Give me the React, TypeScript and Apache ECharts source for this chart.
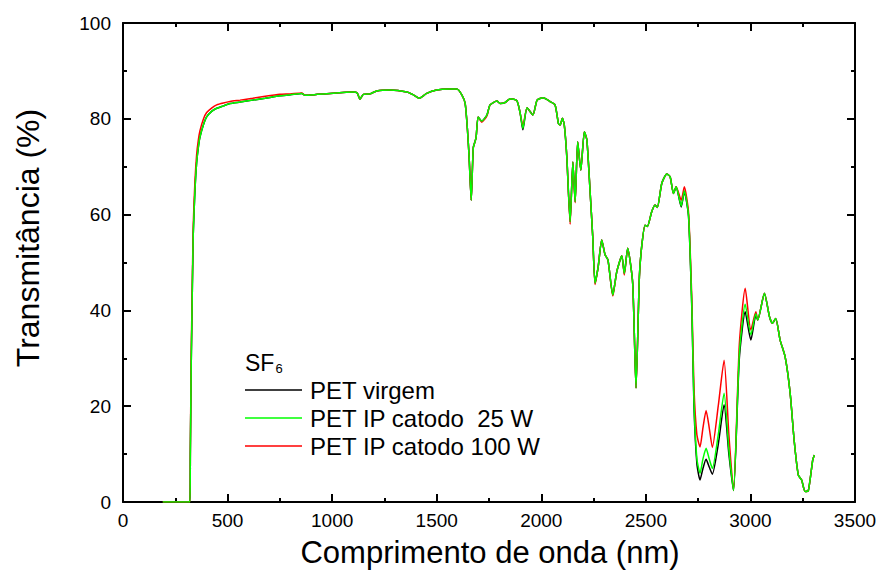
import React, { useEffect, useRef } from "react";
import * as echarts from "echarts";

const wavelengths = [190, 320, 322, 326, 330, 336, 344, 352, 360, 368, 385, 400, 425, 448, 480, 512, 560, 620, 680, 750, 800, 855, 870, 930, 990, 1050, 1101, 1120, 1133, 1149, 1181, 1213, 1277, 1357, 1389, 1417, 1452, 1500, 1560, 1596, 1620, 1636, 1647, 1655, 1665, 1675, 1688, 1698, 1715, 1740, 1755, 1788, 1803, 1827, 1851, 1883, 1899, 1912, 1932, 1960, 1980, 2009, 2042, 2066, 2082, 2090, 2101, 2110, 2122, 2138, 2151, 2162, 2174, 2189, 2206, 2218, 2233, 2246, 2257, 2272, 2289, 2305, 2319, 2342, 2361, 2385, 2397, 2413, 2437, 2453, 2469, 2480, 2496, 2507, 2528, 2544, 2555, 2576, 2600, 2616, 2632, 2645, 2669, 2684, 2704, 2720, 2730, 2744, 2759, 2773, 2788, 2803, 2818, 2846, 2874, 2897, 2919, 2947, 2975, 3002, 3026, 3035, 3067, 3091, 3105, 3121, 3142, 3166, 3190, 3209, 3229, 3245, 3261, 3277, 3298, 3306];

const petVirgem = [0, 0, 10, 28, 40, 56, 65, 70.8, 74, 76.2, 78.8, 80.4, 81.6, 82.2, 82.7, 83.2, 83.5, 83.9, 84.3, 84.8, 85.0, 85.3, 84.9, 85.1, 85.3, 85.5, 85.6, 85.4, 84.1, 85.1, 85.2, 85.8, 86.0, 85.6, 85.0, 84.3, 85.3, 86.0, 86.2, 86.2, 85.0, 83.2, 77.7, 72, 63, 74, 76, 80.4, 79.5, 80.8, 82.9, 83.7, 83.2, 83.4, 84.2, 83.8, 81.2, 77.7, 82.3, 80.8, 83.9, 84.4, 83.6, 82.9, 79.0, 78.7, 80.1, 78.7, 72.1, 58.5, 71.0, 62.7, 75.2, 69.3, 77.3, 75.6, 65.1, 55.4, 45.7, 49.1, 54.7, 51.6, 50.5, 43.2, 48.1, 51.4, 47.7, 53.0, 45.7, 23.8, 47.0, 53.3, 57.8, 57.5, 60.6, 62.0, 61.5, 66.5, 68.5, 67.9, 64.4, 65.8, 61.6, 64.8, 59.6, 40, 20, 8, 4.6, 7, 8.9, 7.3, 5.8, 12, 20.3, 10, 2.4, 30, 39.7, 33.8, 39, 38, 43.6, 38.7, 37.3, 38.3, 33.8, 30.3, 22.7, 12.9, 5.6, 4.6, 2.2, 2.4, 8.8, 9.8];

const petCatodo25 = [0, 0, 10, 28, 40, 56, 65, 70.8, 74, 76.2, 78.8, 80.4, 81.6, 82.2, 82.7, 83.2, 83.5, 83.9, 84.3, 84.8, 85.0, 85.3, 84.9, 85.1, 85.3, 85.5, 85.6, 85.4, 84.1, 85.1, 85.2, 85.8, 86.0, 85.6, 85.0, 84.3, 85.3, 86.0, 86.2, 86.2, 85.0, 83.2, 77.7, 72, 63, 74, 76, 80.4, 79.5, 80.8, 82.9, 83.7, 83.2, 83.4, 84.2, 83.8, 81.2, 78.0, 82.3, 80.8, 83.9, 84.4, 83.6, 82.9, 79.0, 78.7, 80.1, 78.7, 72.1, 58.5, 71.0, 62.7, 75.2, 69.3, 77.3, 75.6, 65.1, 55.4, 45.7, 49.1, 54.7, 51.6, 50.5, 43.2, 48.1, 51.4, 47.7, 53.0, 45.7, 23.8, 47.0, 53.3, 57.8, 57.5, 60.6, 62.0, 61.5, 66.5, 68.5, 67.9, 64.4, 65.8, 61.8, 65.0, 59.8, 40.5, 21, 9, 6, 9, 11.2, 9, 7, 14, 22.7, 11, 2.4, 31, 41.3, 34.9, 39.3, 38, 43.6, 38.7, 37.3, 38.3, 33.8, 30.3, 22.7, 12.9, 5.6, 4.6, 2.2, 2.4, 8.8, 9.8];

const petCatodo100 = [0, 0, 11, 30, 42, 58, 67, 72.5, 75.5, 77.5, 80, 81.3, 82.3, 82.9, 83.3, 83.6, 83.9, 84.3, 84.7, 85.1, 85.2, 85.4, 84.9, 85.1, 85.3, 85.5, 85.6, 85.4, 84.1, 85.1, 85.2, 85.8, 86.0, 85.6, 85.0, 84.3, 85.3, 86.0, 86.2, 86.2, 85.0, 83.2, 77.7, 72, 63, 74, 76, 80.4, 79.3, 80.6, 82.9, 83.7, 83.2, 83.4, 84.2, 83.8, 81.2, 78.5, 82.3, 80.8, 83.9, 84.4, 83.6, 82.9, 79.0, 78.7, 80.1, 78.7, 72.1, 58.0, 71.0, 62.5, 75.2, 69.3, 77.3, 75.6, 65.1, 55.4, 45.4, 49.1, 54.7, 51.6, 50.5, 43.0, 48.1, 51.4, 47.4, 53.0, 45.7, 23.8, 47.0, 53.3, 57.8, 57.5, 60.6, 62.0, 61.5, 66.5, 68.5, 67.9, 64.4, 65.8, 63.0, 65.8, 60.5, 42, 24, 14, 11.5, 15.5, 19.1, 15.5, 11.4, 20, 29.6, 14, 2.4, 33, 44.6, 35.9, 39.7, 38, 43.6, 38.7, 37.3, 38.3, 33.8, 30.3, 22.7, 12.9, 5.6, 4.6, 2.2, 2.4, 8.8, 9.8];

const seriesNames = ["PET virgem", "PET IP catodo  25 W", "PET IP catodo 100 W"];
const seriesColors = ["#000000", "#00ff00", "#ff0000"];
const xTitle = "Comprimento de onda (nm)";
const yTitle = "Transmitância (%)";

const FONT = "'Liberation Sans', Arial, Helvetica, sans-serif";

function pairs(values: number[]) {
  return wavelengths.map((w, i) => [w, values[i]]);
}

export default function App() {
  const ref = useRef<HTMLDivElement>(null);
  useEffect(() => {
    if (!ref.current) return;
    const chart = echarts.init(ref.current, undefined, { renderer: "svg" });
    const axisLine = { show: true, onZero: false, lineStyle: { color: "#000", width: 2 } };
    const tick = { show: true, inside: true, length: 8, lineStyle: { color: "#000", width: 2 } };
    const minor = { show: true, splitNumber: 2, length: 4, lineStyle: { color: "#000", width: 2 } };
    const datasets = [petVirgem, petCatodo25, petCatodo100];
    const zs = [2, 4, 3];
    const fmt = (v: number) => String(v);
    chart.setOption({
      animation: false,
      backgroundColor: "#fff",
      grid: { left: 123, right: 25, top: 23, bottom: 69, containLabel: false },
      legend: {
        show: true,
        orient: "vertical",
        left: 245,
        top: 376,
        padding: 0,
        icon: "rect",
        itemWidth: 57,
        itemHeight: 1.5,
        itemGap: 0,
        data: seriesNames,
        textStyle: { fontFamily: FONT, fontSize: 24, color: "#000", lineHeight: 28, padding: [0, 0, 0, 3] },
      },
      graphic: [
        {
          type: "text",
          left: 245,
          top: 351,
          style: {
            text: "SF{sub|6}",
            fontFamily: FONT,
            fontSize: 23,
            fill: "#000",
            rich: { sub: { fontSize: 13, fontFamily: FONT, padding: [12, 0, 0, 1] } },
          },
        },
        {
          type: "text",
          x: 490,
          y: 552,
          style: {
            text: xTitle,
            fontFamily: FONT,
            fontSize: 31,
            fill: "#000",
            align: "center",
            verticalAlign: "middle",
          },
        },
        {
          type: "text",
          x: 28,
          y: 238,
          rotation: Math.PI / 2,
          style: {
            text: yTitle,
            fontFamily: FONT,
            fontSize: 32,
            fill: "#000",
            align: "center",
            verticalAlign: "middle",
          },
        },
      ],
      xAxis: [
        {
          type: "value",
          min: 0,
          max: 3500,
          interval: 500,
          position: "bottom",
          axisLine,
          axisTick: tick,
          minorTick: minor,
          splitLine: { show: false },
          axisLabel: { fontFamily: FONT, fontSize: 19, color: "#000", margin: 9, formatter: fmt },
        },
        {
          type: "value",
          min: 0,
          max: 3500,
          interval: 500,
          position: "top",
          axisLine,
          axisTick: tick,
          minorTick: minor,
          splitLine: { show: false },
          axisLabel: { show: false },
        },
      ],
      yAxis: [
        {
          type: "value",
          min: 0,
          max: 100,
          interval: 20,
          position: "left",
          axisLine,
          axisTick: tick,
          minorTick: minor,
          splitLine: { show: false },
          axisLabel: { fontFamily: FONT, fontSize: 19, color: "#000", margin: 12, formatter: fmt },
        },
        {
          type: "value",
          min: 0,
          max: 100,
          interval: 20,
          position: "right",
          axisLine,
          axisTick: tick,
          minorTick: minor,
          splitLine: { show: false },
          axisLabel: { show: false },
        },
      ],
      series: datasets.map((d, i) => ({
        type: "line",
        name: seriesNames[i],
        xAxisIndex: 0,
        yAxisIndex: 0,
        data: pairs(d),
        showSymbol: false,
        symbol: "none",
        smooth: 0.2,
        z: zs[i],
        color: seriesColors[i],
        lineStyle: { color: seriesColors[i], width: 1.5 },
      })),
    });
    return () => chart.dispose();
  }, []);
  return <div ref={ref} style={{ width: 880, height: 571, position: "absolute", left: 0, top: 0 }} />;
}
